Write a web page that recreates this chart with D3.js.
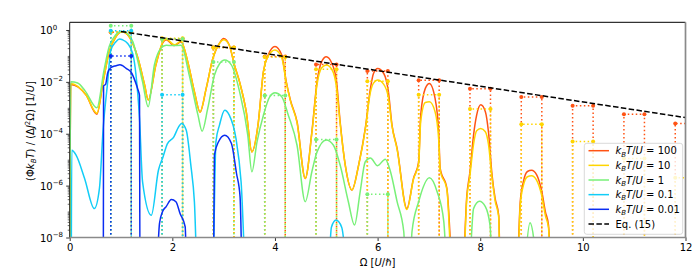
<!DOCTYPE html>
<html><head><meta charset="utf-8">
<script src="https://cdn.jsdelivr.net/npm/d3@7"></script>
<style>body{margin:0;background:#fff;} svg{display:block;font-family:"DejaVu Sans",sans-serif;}</style>
</head><body><svg id="c" width="700" height="280"></svg>
<script>
// ---------- data ----------
const seriesLabels = ["100", "10", "1", "0.1", "0.01"];
const seriesColors = ["#ff5314", "#ffd500", "#78f078", "#12cdf7", "#0a2cf2"];

const curve100 = [[0,1e-10],[0.02,7.9e-3],[0.32,3.1e-3],[0.53,5.6e-4],[0.65,1.0e-2],[0.77,0.145],[0.9,0.55],[1.02,0.85],[1.16,0.55],[1.33,0.081],[1.46,7.6e-3],[1.53,2.0e-3],[1.68,0.045],[1.81,0.31],[1.88,0.42],[2.04,0.25],[2.17,0.355],[2.3,0.06],[2.43,4.2e-3],[2.54,6.8e-4],[2.66,5.6e-3],[2.79,0.081],[2.92,0.31],[3.0,0.47],[3.11,0.26],[3.21,0.045],[3.31,0.01],[3.44,7.1e-4],[3.55,2.0e-5],[3.67,2.2e-4],[3.775,0.025],[3.87,0.11],[4.0,0.23],[4.13,0.11],[4.22,0.0102],[4.3,2e-3],[4.43,2.9e-4],[4.59,1.9e-6],[4.72,1.2e-4],[4.82,0.0102],[4.91,0.06],[5.0,0.093],[5.11,0.051],[5.2,0.0102],[5.27,2.9e-4],[5.37,6.2e-6],[5.5,6.8e-7],[5.63,6.2e-6],[5.76,1.6e-4],[5.86,5.6e-3],[5.92,0.021],[6.0,0.033],[6.12,0.021],[6.21,4.2e-3],[6.28,2.2e-4],[6.38,2.75e-5],[6.57,1.3e-7],[6.7,1.9e-6],[6.8,8.3e-6],[6.84,5.2e-4],[6.93,5.6e-3],[7.01,8.7e-3],[7.12,2.3e-3],[7.19,1.2e-4],[7.22,4.6e-6],[7.35,7.9e-7],[7.49,1e-10],[7.64,1e-10],[7.74,4.4e-7],[7.8,3.5e-6],[7.87,8.9e-5],[7.93,5.2e-4],[8.01,1.3e-3],[8.1,7.1e-4],[8.16,1.2e-4],[8.23,2.6e-6],[8.29,3.2e-7],[8.36,7.2e-8],[8.4,1e-10],[8.7,1e-10],[8.78,2.4e-7],[8.84,1.4e-6],[8.92,3.5e-6],[9.0,3.9e-6],[9.1,2.6e-6],[9.2,5.8e-7],[9.27,9.8e-8],[9.33,3e-8],[9.38,1e-10]];

const curve10 = [[0,1e-10],[0.02,8.7e-3],[0.32,3.1e-3],[0.53,6.2e-4],[0.65,1.0e-2],[0.77,0.145],[0.9,0.55],[1.02,0.85],[1.16,0.55],[1.33,0.081],[1.46,7.6e-3],[1.53,2.0e-3],[1.68,0.045],[1.81,0.33],[1.88,0.45],[2.04,0.27],[2.17,0.37],[2.3,0.06],[2.43,4.2e-3],[2.54,6.8e-4],[2.66,5.6e-3],[2.79,0.081],[2.92,0.31],[3.0,0.42],[3.11,0.26],[3.21,0.045],[3.31,0.01],[3.44,7.1e-4],[3.55,2.0e-5],[3.67,2.2e-4],[3.775,0.025],[3.87,0.1],[4.0,0.17],[4.13,0.09],[4.22,0.0095],[4.3,1.9e-3],[4.43,2.7e-4],[4.59,1.9e-6],[4.72,1.1e-4],[4.82,8e-3],[4.91,0.035],[5.0,0.045],[5.11,0.03],[5.2,6e-3],[5.27,2.5e-4],[5.37,6e-6],[5.5,6.8e-7],[5.63,6e-6],[5.76,1.5e-4],[5.86,4e-3],[5.92,0.009],[6.0,0.0117],[6.12,0.008],[6.21,2.5e-3],[6.28,2e-4],[6.38,2.5e-5],[6.57,1.2e-7],[6.7,1.8e-6],[6.8,7e-6],[6.84,3e-4],[6.93,1.6e-3],[7.01,1.7e-3],[7.12,7e-4],[7.19,6e-5],[7.22,4e-6],[7.35,7e-7],[7.47,1e-10],[7.65,1e-10],[7.74,3.5e-7],[7.8,2.5e-6],[7.87,4e-5],[7.93,1.3e-4],[8.01,1.6e-4],[8.1,1.2e-4],[8.16,4e-5],[8.23,2e-6],[8.29,2.6e-7],[8.36,6e-8],[8.39,1e-10],[8.71,1e-10],[8.78,1.8e-7],[8.84,1e-6],[8.92,2.2e-6],[9.0,2.4e-6],[9.1,1.6e-6],[9.2,4e-7],[9.27,7e-8],[9.33,2.4e-8],[9.37,1e-10]];

const curve1 = [[0,1e-10],[0.02,1.0e-2],[0.155,9e-3],[0.3,4.5e-3],[0.53,1.0e-3],[0.67,0.029],[0.77,0.23],[0.87,0.55],[1.0,0.87],[1.06,0.85],[1.23,0.355],[1.33,0.06],[1.42,0.01],[1.53,1.1e-3],[1.65,0.045],[1.78,0.2],[1.88,0.26],[2.0,0.25],[2.17,0.26],[2.33,0.018],[2.5,5.2e-4],[2.58,1.26e-4],[2.69,9.5e-4],[2.82,0.018],[2.92,0.05],[3.02,0.069],[3.15,0.045],[3.31,4.2e-3],[3.47,8.9e-5],[3.55,3.4e-6],[3.65,4.9e-5],[3.775,5.2e-4],[3.9,2.7e-3],[4.0,3.8e-3],[4.13,2.7e-3],[4.26,5.2e-4],[4.43,3.6e-5],[4.59,2.4e-7],[4.72,3.5e-6],[4.82,2e-5],[5.0,5.8e-5],[5.14,3.6e-5],[5.27,6.2e-6],[5.43,2.4e-7],[5.55,3e-8],[5.66,5.8e-7],[5.76,8.3e-6],[5.86,1.17e-5],[6.0,5.9e-6],[6.15,1.05e-5],[6.25,3.5e-6],[6.38,2.4e-7],[6.51,1.66e-8],[6.56,1e-10],[6.62,1e-10],[6.67,1.66e-8],[6.8,2.4e-7],[7.01,2e-6],[7.16,5.8e-7],[7.29,4.1e-8],[7.38,1e-10],[7.76,1e-10],[7.87,1.3e-7],[7.985,2.5e-7],[8.1,1.55e-7],[8.19,3e-8],[8.26,1e-10],[8.8,1e-10],[8.97,3.7e-8],[9.14,1e-10]];

const curve01 = [[0.03,1e-10],[0.04,2.3e-5],[0.124,1.5e-5],[0.29,1.9e-6],[0.48,1.3e-7],[0.58,8e-7],[0.65,1.4e-4],[0.74,0.01],[0.8,0.16],[0.9,0.35],[0.97,0.45],[1.03,0.42],[1.13,0.3],[1.23,0.12],[1.29,0.02],[1.36,4e-4],[1.42,1.4e-6],[1.59,7.2e-8],[1.73,4e-6],[1.82,1.3e-5],[1.9,4e-5],[2.03,7.6e-5],[2.12,1.8e-4],[2.18,2.5e-4],[2.27,1.4e-4],[2.36,6.3e-6],[2.43,2.4e-7],[2.5,1e-10],[2.78,1e-10],[2.85,5e-5],[2.92,2.2e-4],[3.02,8.1e-4],[3.11,5.2e-4],[3.24,6.6e-5],[3.34,1.4e-6],[3.45,1e-10],[5.02,1e-10],[5.1,2.5e-8],[5.19,4.7e-8],[5.3,2.5e-8],[5.42,1e-10]];

const curve001 = [[0.655,1e-10],[0.66,7e-3],[0.7,8e-3],[0.74,0.022],[0.8,0.035],[0.9,0.042],[0.98,0.046],[1.03,0.042],[1.1,0.033],[1.2,0.023],[1.28,0.01],[1.33,5e-3],[1.36,3e-3],[1.37,1e-10],[1.67,1e-10],[1.75,3.5e-8],[1.81,1e-7],[1.88,1.55e-7],[1.98,2.9e-7],[2.07,2.4e-7],[2.15,8.5e-8],[2.25,2.6e-8],[2.29,1e-10],[2.8,1e-10],[2.82,1.5e-5],[2.9,4.9e-5],[3.02,8.7e-5],[3.15,4.3e-5],[3.25,3e-6],[3.32,3.7e-7],[3.36,1e-10]];

const peakCenters = [1,2,3,4,5,6,7,8,9,10,11,12];
const binHalfWidth = 0.2;
const box100 = [0.82, 0.46, 0.21, 0.096, 0.047, 0.026, 0.0115, 0.0054, 0.0026, 0.0012, 0.00056, 0.00025];
const box10  = [0.85, 0.48, 0.21, 0.09, 0.031, 0.0105, 0.0032, 0.00089, 0.00023, 0.00005, 0.000011, 0.000002];
const box1   = [1.46, 0.45, 0.058, 0.003, 0.00006, 4.7e-7];
const box01  = [0.94, 0.0032];
const box001 = [0.1];

const eqLine = [[1.0, 0.875], [12, 4.2e-4]];
const xTicks = [0, 2, 4, 6, 8, 10, 12];
const yMajorExps = [0, -2, -4, -6, -8];

// ---------- drawing ----------
const curves = [curve100, curve10, curve1, curve01, curve001];
const boxes = [box100, box10, box1, box01, box001];

const svg = d3.select("#c");
const L = 69.7, R = 685.5, T = 22.3, B = 237.5;
const x = d3.scaleLinear().domain([0, 12]).range([L, R]);
const y = d3.scaleLog().domain([1e-8, 1.98]).range([B, T]);

svg.append("defs").append("clipPath").attr("id", "clip")
  .append("rect").attr("x", L).attr("y", T).attr("width", R - L).attr("height", B - T);

const plot = svg.append("g").attr("clip-path", "url(#clip)");
const line = d3.line().x(d => x(d[0])).y(d => y(d[1])).curve(d3.curveMonotoneX);

curves.forEach((c, i) => {
  const col = seriesColors[i];
  plot.append("path").attr("d", line(c)).attr("fill", "none")
    .attr("stroke", col).attr("stroke-width", 1.5).attr("stroke-linejoin", "round");
  boxes[i].forEach((v, k) => {
    const c0 = peakCenters[k];
    const xl = x(c0 - binHalfWidth), xr = x(c0 + binHalfWidth), yv = y(v);
    plot.append("path")
      .attr("d", `M${xl},${B + 5}L${xl},${yv}L${xr},${yv}L${xr},${B + 5}`)
      .attr("fill", "none").attr("stroke", col).attr("stroke-width", 1.5)
      .attr("stroke-dasharray", "1.5,2.5");
    [xl, xr].forEach(px => plot.append("circle").attr("cx", px).attr("cy", yv)
      .attr("r", 2).attr("fill", col));
  });
});

plot.append("path").attr("d", d3.line().x(d => x(d[0])).y(d => y(d[1]))(eqLine))
  .attr("fill", "none").attr("stroke", "#000").attr("stroke-width", 1.5)
  .attr("stroke-dasharray", "5.5,2.4");

// axes
const xAxis = svg.append("g").attr("transform", `translate(0,${B})`)
  .call(d3.axisBottom(x).tickValues(xTicks).tickSize(3.5).tickPadding(3).tickFormat(d3.format("d")));
xAxis.select(".domain").remove();
xAxis.selectAll("text").attr("font-size", 10).attr("font-family", "DejaVu Sans").attr("fill", "#000");
xAxis.selectAll("line").attr("stroke", "#000").attr("stroke-width", 0.8);

const minorVals = [];
for (let e = -8; e <= 0; e++) for (let m = 1; m <= 9; m++) {
  const v = m * Math.pow(10, e);
  if (v <= 1.98 && !(m === 1 && e % 2 === 0)) minorVals.push(v);
}
const yMinor = svg.append("g").attr("transform", `translate(${L},0)`)
  .call(d3.axisLeft(y).tickValues(minorVals).tickSize(2).tickFormat(() => ""));
yMinor.select(".domain").remove();
yMinor.selectAll("line").attr("stroke", "#000").attr("stroke-width", 0.6);

const yMajor = svg.append("g").attr("transform", `translate(${L},0)`)
  .call(d3.axisLeft(y).tickValues(yMajorExps.map(e => Math.pow(10, e))).tickSize(3.5).tickFormat(() => ""));
yMajor.select(".domain").remove();
yMajor.selectAll("line").attr("stroke", "#000").attr("stroke-width", 0.8);
yMajor.selectAll(".tick text").each(function(d) {
  const t = d3.select(this).attr("x", 40 - L).attr("dy", null).attr("y", 3.6)
    .attr("text-anchor", "start").attr("font-size", 10).attr("font-family", "DejaVu Sans").attr("fill", "#000");
  const e = Math.round(Math.log10(d));
  t.text(null);
  t.append("tspan").text("10");
  t.append("tspan").attr("font-size", 7).attr("dy", -4.5).text(e === 0 ? "0" : "\u2212" + Math.abs(e));
});

// frame
svg.append("line").attr("x1", L).attr("x2", R).attr("y1", T).attr("y2", T).attr("stroke", "#000").attr("stroke-width", 1);
svg.append("line").attr("x1", L).attr("x2", L).attr("y1", T).attr("y2", B).attr("stroke", "#222").attr("stroke-width", 1);
svg.append("line").attr("x1", L).attr("x2", R + 0.8).attr("y1", B).attr("y2", B).attr("stroke", "#8a8a8a").attr("stroke-width", 1.7);
svg.append("line").attr("x1", R).attr("x2", R).attr("y1", T).attr("y2", B).attr("stroke", "#8a8a8a").attr("stroke-width", 1.7);

// axis labels
const xl = svg.append("text").attr("x", (L + R) / 2).attr("y", 266).attr("text-anchor", "middle")
  .attr("font-size", 10).attr("fill", "#000");
xl.append("tspan").text("\u03A9 [");
xl.append("tspan").attr("font-style", "italic").text("U");
xl.append("tspan").text("/");
xl.append("tspan").attr("font-style", "italic").text("\u210F");
xl.append("tspan").text("]");

const yl = svg.append("text").attr("transform", "translate(33.5,131) rotate(-90)")
  .attr("text-anchor", "middle").attr("font-size", 10).attr("fill", "#000");
yl.append("tspan").text("(\u03A6");
yl.append("tspan").attr("font-style", "italic").text("k");
yl.append("tspan").attr("font-style", "italic").attr("font-size", 7).attr("dy", 2.2).text("B");
yl.append("tspan").attr("font-style", "italic").attr("dy", -2.2).text("T");
yl.append("tspan").text(") / (\u0394");
yl.append("tspan").attr("font-style", "italic").text("J");
yl.append("tspan").attr("font-size", 7).attr("dy", -4).text("2");
yl.append("tspan").attr("dy", 4).text("\u03A9) [1/");
yl.append("tspan").attr("font-style", "italic").text("U");
yl.append("tspan").text("]");

// legend
const lg = svg.append("g");
lg.append("rect").attr("x", 584.3).attr("y", 143.3).attr("width", 98.4).attr("height", 91)
  .attr("rx", 2.5).attr("fill", "#fff").attr("fill-opacity", 0.8).attr("stroke", "#d0d0d0").attr("stroke-width", 0.8);
const rowY = i => 150.7 + i * 14.65;
seriesLabels.forEach((lab, i) => {
  lg.append("line").attr("x1", 588.5).attr("x2", 609).attr("y1", rowY(i)).attr("y2", rowY(i))
    .attr("stroke", seriesColors[i]).attr("stroke-width", 1.5);
  const t = lg.append("text").attr("x", 615.5).attr("y", rowY(i) + 3.6).attr("font-size", 10).attr("fill", "#000");
  t.append("tspan").attr("font-style", "italic").text("k");
  t.append("tspan").attr("font-style", "italic").attr("font-size", 7).attr("dy", 2.2).text("B");
  t.append("tspan").attr("font-style", "italic").attr("dy", -2.2).text("T");
  t.append("tspan").text("/");
  t.append("tspan").attr("font-style", "italic").text("U");
  t.append("tspan").text(" = " + lab);
});
lg.append("line").attr("x1", 588.5).attr("x2", 609).attr("y1", rowY(5)).attr("y2", rowY(5))
  .attr("stroke", "#000").attr("stroke-width", 1.5).attr("stroke-dasharray", "5.5,2.4");
lg.append("text").attr("x", 615.5).attr("y", rowY(5) + 3.6).attr("font-size", 10).attr("fill", "#000").text("Eq. (15)");
</script></body></html>
